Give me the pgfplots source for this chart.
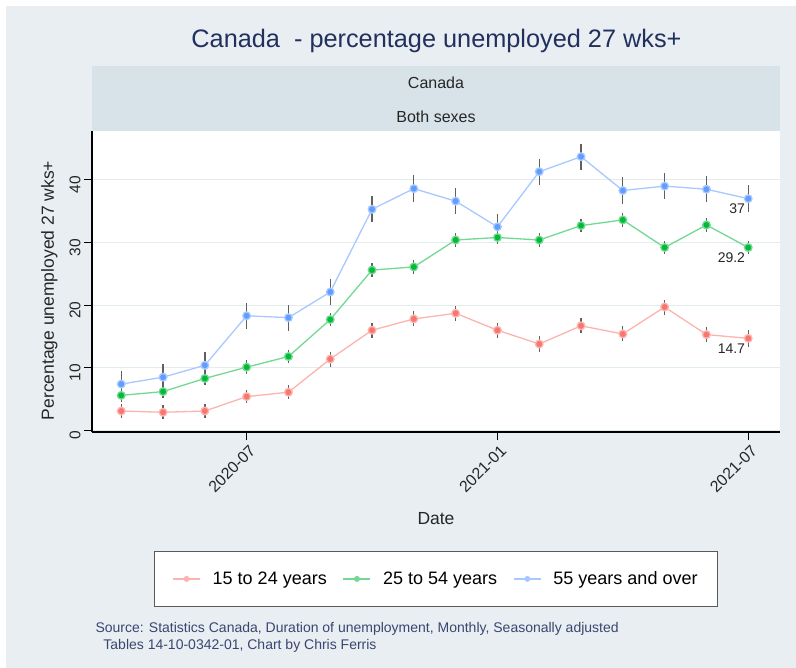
\documentclass[border=0pt]{standalone}
\usepackage{pgfplots}
\pgfplotsset{compat=1.18}
\usepackage{pgfplotstable}
\usepackage{fontspec}
\setmainfont{Liberation Sans}
\definecolor{bgcol}{HTML}{E8EEF1}
\definecolor{stripcol}{HTML}{D8E3E9}
\definecolor{titlecol}{HTML}{22305E}
\definecolor{srccol}{HTML}{3A4670}
\definecolor{cred}{HTML}{F8766D}
\definecolor{cgreen}{HTML}{00BA38}
\definecolor{cblue}{HTML}{619CFF}
\definecolor{errgray}{HTML}{606060}
\definecolor{gridcol}{HTML}{E2ECEC}

\pgfplotstableread{
idx red rerr green gerr blue berr
0  3.1 1.1 5.6 1.1 7.4 2.1
1  2.9 1.1 6.2 1.1 8.5 2.1
2  3.1 1.1 8.3 1.1 10.4 2.1
3  5.4 1.1 10.1 1.1 18.3 2.1
4  6.1 1.1 11.8 1.1 18.0 2.1
5  11.4 1.2 17.7 1.1 22.1 2.1
6  16.0 1.2 25.6 1.1 35.3 2.1
7  17.8 1.2 26.1 1.1 38.6 2.1
8  18.7 1.2 30.4 1.1 36.6 2.1
9  16.0 1.2 30.8 1.1 32.5 2.1
10 13.8 1.2 30.4 1.1 41.3 2.1
11 16.7 1.2 32.7 1.1 43.7 2.1
12 15.4 1.2 33.6 1.1 38.3 2.1
13 19.7 1.2 29.2 1.1 39.0 2.1
14 15.3 1.2 32.8 1.1 38.5 2.1
15 14.7 1.4 29.2 1.1 37.0 2.1
}\datatable

\pgfplotstableread{
idx val lab
15 37.0 37
15 29.2 29.2
15 14.7 14.7
}\labtable

\begin{document}
\begin{tikzpicture}
\useasboundingbox (0pt,0pt) rectangle (796pt,-668pt);
\fill[white] (0pt,0pt) rectangle (796pt,-668pt);
\fill[bgcol] (6pt,-6pt) rectangle (796pt,-668pt);
\fill[stripcol] (92pt,-66pt) rectangle (780pt,-131pt);
\node[font=\fontsize{25.3}{29}\selectfont, text=titlecol, anchor=base] at (436.5pt,-48pt) {Canada\ \ - percentage unemployed 27 wks+};
\node[font=\fontsize{16}{18}\selectfont, text=black!85] at (436pt,-82.5pt) {Canada};
\node[font=\fontsize{16}{18}\selectfont, text=black!85] at (436pt,-117pt) {Both sexes};

\begin{axis}[
  at={(92pt,-432pt)}, anchor=south west,
  scale only axis, width=688pt, height=301pt,
  xmin=-0.70, xmax=15.76, ymin=-0.25, ymax=47.8,
  axis x line*=bottom, axis y line*=left,
  axis line style={black, line width=1.2pt, -},
  axis background/.style={fill=white},
  xtick={3,9,15}, xticklabels={2020-07,2021-01,2021-07},
  ytick={0,10,20,30,40},
  tick align=outside, major tick length=8pt,
  tick style={black, line width=1pt},
  ymajorgrids, grid style={gridcol, line width=1pt},
  /pgf/number format/assume math mode=true,
  xticklabel style={rotate=45, anchor=east, font=\fontsize{16}{18}\selectfont, text=black!85, yshift=-10pt, xshift=2pt},
  yticklabel style={rotate=90, anchor=south, font=\fontsize{15.5}{17}\selectfont, text=black!85, xshift=-5pt},
  xlabel={Date}, ylabel={Percentage unemployed 27 wks+},
  xlabel style={at={(axis description cs:0.5,-0.289)}, anchor=center, font=\fontsize{17.5}{20}\selectfont, text=black!85},
  ylabel style={at={(axis description cs:-0.062,0.47)}, anchor=center, rotate=0, font=\fontsize{17.5}{20}\selectfont, text=black!85},
  legend columns=3,
  legend style={at={(0.5,-0.488)}, anchor=center, draw=black!65, line width=0.9pt, fill=white,
    font=\fontsize{18}{21}\selectfont, inner xsep=18pt, inner ysep=18pt,
    /tikz/every odd column/.append style={column sep=10pt},
    /tikz/every even column/.append style={column sep=14pt}},
  legend image code/.code={\draw[#1, mark=none] (0pt,0pt) -- (27pt,0pt); \fill[#1, draw=none] (13.5pt,0pt) circle (3pt);},
]
% error bars
\addplot[draw=none, mark=none, forget plot, error bars/.cd, y dir=both, y explicit,
  error bar style={draw=errgray, line width=1.3pt}, error mark=none]
  table[x=idx, y=red, y error=rerr] {\datatable};
\addplot[draw=none, mark=none, forget plot, error bars/.cd, y dir=both, y explicit,
  error bar style={draw=errgray, line width=1.3pt}, error mark=none]
  table[x=idx, y=green, y error=gerr] {\datatable};
\addplot[draw=none, mark=none, forget plot, error bars/.cd, y dir=both, y explicit,
  error bar style={draw=errgray, line width=1.3pt}, error mark=none]
  table[x=idx, y=blue, y error=berr] {\datatable};
% lines
\addplot[color=cred!55!white, line width=1.3pt, mark=*, mark size=3.8pt, mark options={draw=none, fill=cred}]
  table[x=idx, y=red] {\datatable};
\addlegendentry{15 to 24 years}
\addplot[color=cgreen!55!white, line width=1.3pt, mark=*, mark size=3.8pt, mark options={draw=none, fill=cgreen}]
  table[x=idx, y=green] {\datatable};
\addlegendentry{25 to 54 years}
\addplot[color=cblue!55!white, line width=1.3pt, mark=*, mark size=3.8pt, mark options={draw=none, fill=cblue}]
  table[x=idx, y=blue] {\datatable};
\addlegendentry{55 years and over}
% value labels
\addplot[only marks, mark=none, forget plot, nodes near coords, point meta=explicit symbolic,
  every node near coord/.append style={anchor=north east, font=\fontsize{14}{16}\selectfont, text=black!85, inner sep=3pt, yshift=-2pt}]
  table[x=idx, y=val, meta=lab] {\labtable};
\end{axis}

\node[font=\fontsize{14}{16}\selectfont, text=srccol, anchor=base west] at (92pt,-632pt) {Source: Statistics Canada, Duration of unemployment, Monthly, Seasonally adjusted};
\node[font=\fontsize{14}{16}\selectfont, text=srccol, anchor=base west] at (96pt,-649pt) {\ Tables 14-10-0342-01, Chart by Chris Ferris};
\end{tikzpicture}
\end{document}
